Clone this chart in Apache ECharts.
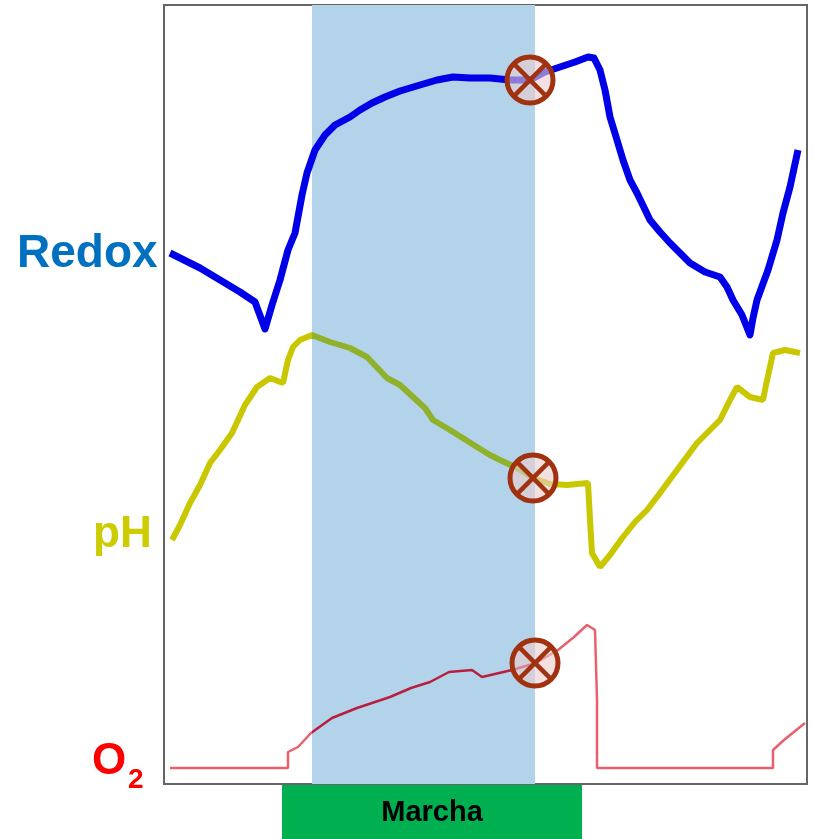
<!DOCTYPE html>
<html>
<head>
<meta charset="utf-8">
<script src="https://cdn.jsdelivr.net/npm/echarts@6/dist/echarts.min.js"></script>
<style>
  html, body { margin: 0; padding: 0; background: #fff; }
  #chart { width: 813px; height: 839px; }
</style>
</head>
<body>
<div id="chart"></div>
<script>
// time (x) / signal (y)
var redox = [
  [6,531],[16,526],[36,516],[56,504],[76,492],[91,482],[101,455],[108,479],[116,504],
  [124,534],[131,551],[138,589],[143,611],[151,634],[161,649],[171,659],[186,667],
  [196,674],[208,681],[221,687],[236,693],[256,699],[273,704],[289,707],[306,706],
  [326,706],[346,704],[366,704],[381,712],[396,717],[411,722],[424,727],[430,726],
  [436,714],[441,694],[446,667],[453,644],[459,624],[466,604],[473,591],[486,564],
  [496,552],[506,541],[516,531],[526,521],[541,512],[556,507],[563,497],[569,484],
  [578,469],[586,449],[589,466],[593,484],[604,514],[613,544],[619,571],[626,597],[634,634]
];
var ph = [
  [8,244],[16,259],[26,281],[36,299],[46,321],[56,334],[68,351],[81,379],[93,397],
  [106,406],[119,401],[124,424],[129,437],[136,444],[148,449],[166,442],[186,436],
  [203,427],[223,406],[236,399],[249,387],[261,376],[269,364],[286,354],[313,337],
  [326,329],[336,324],[351,317],[369,306],[386,300],[403,299],[424,301],[426,264],
  [428,231],[436,217],[446,229],[459,247],[471,262],[483,274],[496,291],[513,314],
  [533,341],[546,354],[556,364],[566,384],[573,397],[586,387],[599,384],[602,399],
  [609,431],[621,434],[636,431]
];
var o2 = [
  [6,16],[124,16],[124,32],[134,37],[147,51],[168,66],[193,76],[226,87],[247,96],
  [266,102],[285,112],[308,114],[318,107],[348,114],[372,121],[394,134],[410,147],
  [423,159],[431,154],[433,84],[433,16],[609,16],[609,34],[620,44],[641,61]
];
var markers = [[366,704],[369,306],[371,121]];
var marchaStart = 148, marchaEnd = 371;   // shaded period
var barStart = 118, barEnd = 418;         // green "Marcha" bar

var chart = echarts.init(document.getElementById('chart'));

chart.setOption({
  backgroundColor: '#fff',
  animation: false,
  grid: {
    left: 164, right: 6, top: 5, bottom: 55,
    show: true,
    borderColor: '#666',
    borderWidth: 2,
    backgroundColor: 'transparent'
  },
  xAxis: { type: 'value', min: 0, max: 643, show: false },
  yAxis: { type: 'value', min: 0, max: 779, show: false },
  visualMap: [{
    type: 'piecewise', show: false, dimension: 0, seriesIndex: 2,
    pieces: [
      { lt: marchaStart, color: '#c9c800' },
      { gte: marchaStart, lte: marchaEnd, color: '#8fb12c' },
      { gt: marchaEnd, color: '#c9c800' }
    ]
  }, {
    type: 'piecewise', show: false, dimension: 0, seriesIndex: 3,
    pieces: [
      { lt: marchaStart, color: '#e8606c' },
      { gte: marchaStart, lte: marchaEnd, color: '#b81e3e' },
      { gt: marchaEnd, color: '#e8606c' }
    ]
  }],
  series: [
    {
      type: 'line', data: [], z: 1, silent: true,
      markArea: {
        silent: true,
        itemStyle: { color: '#b3d3ea' },
        data: [[{ xAxis: marchaStart }, { xAxis: marchaEnd }]]
      }
    },
    {
      name: 'Redox', type: 'line', data: redox, z: 3,
      symbol: 'none',
      lineStyle: { color: '#0000e8', width: 7, join: 'round' }
    },
    {
      name: 'pH', type: 'line', data: ph, z: 3,
      symbol: 'none',
      lineStyle: { width: 6 }
    },
    {
      name: 'O2', type: 'line', data: o2, z: 3,
      symbol: 'none',
      lineStyle: { width: 2.5 }
    },
    {
      type: 'custom', data: markers, z: 5,
      renderItem: function (params, api) {
        var p = api.coord([api.value(0), api.value(1)]);
        var r = 23, d = r * 0.7;
        return {
          type: 'group',
          children: [
            { type: 'circle', shape: { cx: p[0], cy: p[1], r: r },
              style: { fill: 'rgba(235,205,205,0.6)', stroke: '#a0320f', lineWidth: 5 } },
            { type: 'line', shape: { x1: p[0] - d, y1: p[1] - d, x2: p[0] + d, y2: p[1] + d },
              style: { stroke: '#a0320f', lineWidth: 4.5 } },
            { type: 'line', shape: { x1: p[0] - d, y1: p[1] + d, x2: p[0] + d, y2: p[1] - d },
              style: { stroke: '#a0320f', lineWidth: 4.5 } }
          ]
        };
      }
    }
  ]
});

var x0 = chart.convertToPixel({ gridIndex: 0 }, [barStart, 0]);
var x1 = chart.convertToPixel({ gridIndex: 0 }, [barEnd, 0]);

chart.setOption({
  graphic: [
    { type: 'rect', shape: { x: x0[0], y: 785, width: x1[0] - x0[0], height: 54 },
      style: { fill: '#00b050' } },
    { type: 'text', style: { text: 'Marcha', x: (x0[0] + x1[0]) / 2, y: 813,
      textAlign: 'center', textVerticalAlign: 'middle',
      font: 'bold 29px "Liberation Sans", Arial, sans-serif', fill: '#000' } },
    { type: 'text', style: { text: 'Redox', x: 17, y: 254, textVerticalAlign: 'middle',
      font: 'bold 46px "Liberation Sans", Arial, sans-serif', fill: '#0070c0' } },
    { type: 'text', style: { text: 'pH', x: 93, y: 535, textVerticalAlign: 'middle',
      font: 'bold 44px "Liberation Sans", Arial, sans-serif', fill: '#cccc00' } },
    { type: 'text', style: { text: 'O', x: 92, y: 762, textVerticalAlign: 'middle',
      font: 'bold 44px "Liberation Sans", Arial, sans-serif', fill: '#ff0000' } },
    { type: 'text', style: { text: '2', x: 128, y: 780, textVerticalAlign: 'middle',
      font: 'bold 28px "Liberation Sans", Arial, sans-serif', fill: '#ff0000' } }
  ]
});
</script>
</body>
</html>
